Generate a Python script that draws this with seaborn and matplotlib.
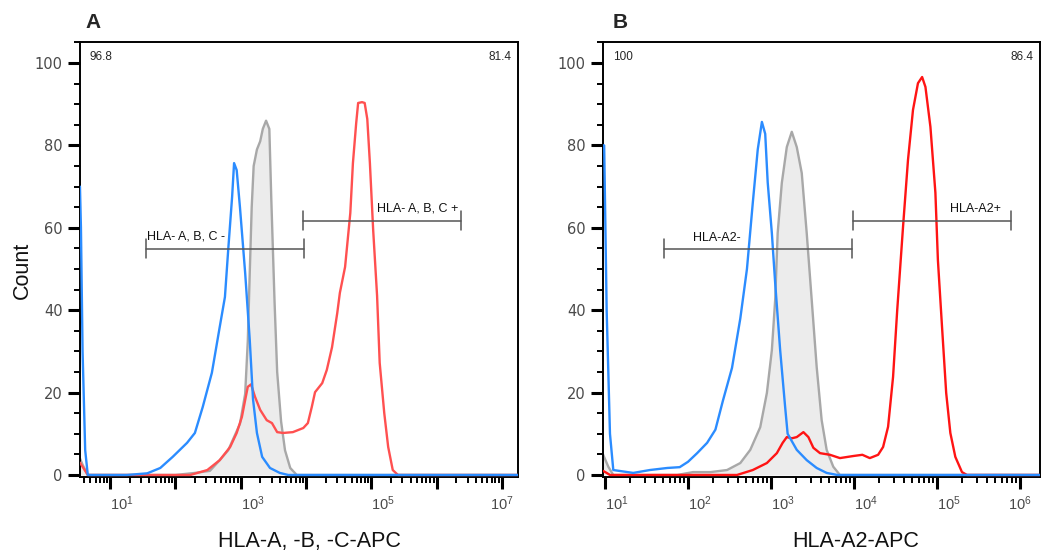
import numpy as np
import pandas as pd
import matplotlib
matplotlib.use("Agg")
import matplotlib.pyplot as plt
import matplotlib.ticker as mticker
import seaborn as sns

# ---------------- data (log10 fluorescence, count) ----------------
# Panel A
blue_a_exp = [0.54, 0.555, 0.58, 0.62, 0.66, 1.26, 1.57, 1.77, 1.96, 2.18, 2.30, 2.42, 2.56, 2.68,
              2.76, 2.81, 2.87, 2.90, 2.94, 2.99, 3.07, 3.14, 3.19, 3.25, 3.33, 3.45, 3.60, 3.73, 7.25]
blue_a_cnt = [70, 60, 30, 6, 0, 0, 0.4, 1.7, 4.4, 7.8, 10.2, 16.5, 24.8, 35.9,
              43.2, 54.6, 67.5, 75.7, 74.0, 65.0, 49.0, 32.8, 18.4, 10.2, 4.4, 1.7, 0.5, 0, 0]

gray_a_exp = [0.54, 0.58, 0.66, 2.0, 2.30, 2.53, 2.68, 2.81, 2.88, 2.99, 3.07, 3.11, 3.14, 3.17,
              3.20, 3.25, 3.30, 3.34, 3.39, 3.44, 3.47, 3.52, 3.56, 3.62, 3.68, 3.76, 3.86, 7.25]
gray_a_cnt = [4, 2.5, 0, 0, 0.5, 1, 3.6, 6, 8.5, 12.4, 19.7, 32.5, 49, 65,
              75, 79, 81, 84, 86, 84, 67, 42, 25, 13, 6, 1.7, 0, 0]

red_a_exp = [0.54, 0.58, 0.66, 2.23, 2.49, 2.68, 2.84, 2.94, 3.02, 3.07, 3.11, 3.16, 3.22, 3.30,
             3.40, 3.48, 3.56, 3.65, 3.80, 3.96, 4.03, 4.09, 4.14, 4.25, 4.32, 4.40, 4.48, 4.52,
             4.60, 4.68, 4.72, 4.77, 4.80, 4.86, 4.90, 4.94, 4.98, 5.03, 5.09, 5.13, 5.20, 5.26,
             5.33, 5.41, 7.25]
red_a_cnt = [3, 2, 0, 0, 1.2, 3.6, 6.8, 10.2, 14.1, 18.2, 21.4, 22, 19, 15.8,
             13.3, 12.6, 10.4, 10.2, 10.4, 11.4, 12.6, 16.5, 20.1, 22.3, 25.5, 31, 39.3, 44.2,
             50.5, 63.6, 75.7, 85.4, 90.3, 90.5, 90.3, 86.4, 75.7, 59.5, 43.5, 27.2, 15.0, 6.8,
             1.2, 0, 0]

# Panel B
blue_b_exp = [0.976, 0.99, 1.02, 1.06, 1.10, 1.34, 1.54, 1.75, 1.90, 2.00, 2.11, 2.23, 2.33, 2.42,
              2.53, 2.63, 2.71, 2.78, 2.84, 2.89, 2.93, 2.96, 3.01, 3.05, 3.11, 3.17, 3.20, 3.31,
              3.43, 3.55, 3.67, 3.80, 6.24]
blue_b_cnt = [80, 80, 40, 10, 1.2, 0.5, 1.2, 1.7, 1.9, 3.2, 5.3, 7.8, 11, 18,
              26, 38, 50, 66, 79, 85.7, 82.8, 71, 58.7, 46.6, 30.3, 16.5, 10.0, 6.1,
              3.6, 1.7, 0.5, 0, 0]

gray_b_exp = [0.976, 1.04, 1.10, 1.87, 2.06, 2.27, 2.47, 2.63, 2.75, 2.87, 2.95, 3.01, 3.05, 3.08,
              3.13, 3.19, 3.25, 3.31, 3.37, 3.43, 3.49, 3.55, 3.61, 3.67, 3.75, 3.83, 6.24]
gray_b_cnt = [5, 2, 0, 0, 0.7, 0.7, 1.2, 2.9, 6.1, 11.6, 19.9, 30.3, 42.5, 58.7,
              70.9, 79.6, 83.3, 79.6, 73.3, 58.7, 42.5, 26.2, 13.3, 6.1, 2, 0, 0]

red_b_exp = [0.976, 1.02, 1.06, 2.59, 2.78, 2.95, 3.07, 3.14, 3.19, 3.25, 3.31, 3.39, 3.45, 3.51,
             3.59, 3.71, 3.83, 3.99, 4.10, 4.19, 4.29, 4.35, 4.41, 4.47, 4.52, 4.59, 4.65, 4.71,
             4.77, 4.82, 4.86, 4.92, 4.98, 5.01, 5.06, 5.11, 5.16, 5.22, 5.30, 5.36, 6.24]
red_b_cnt = [1, 0.5, 0, 0, 1.2, 2.9, 5.3, 7.8, 9.2, 8.9, 9.2, 10.4, 9.2, 6.6,
             5.3, 4.9, 4.1, 4.6, 4.9, 4.1, 4.9, 6.8, 11.7, 23.8, 40.0, 60.2, 76.5, 88.6,
             95.1, 96.6, 94.2, 84.5, 68.5, 52.2, 35.9, 19.9, 10.2, 4.4, 0.7, 0, 0]

# Gates (log10 edges, height) and labels
gates_a = [(1.55, 3.97, 54.9), (3.96, 6.375, 61.7)]
gates_b = [(1.71, 3.98, 54.9), (3.99, 5.89, 61.7)]
gate_labels_a = ["HLA- A, B, C -", "HLA- A, B, C +"]
gate_labels_b = ["HLA-A2-", "HLA-A2+"]
corner_a = ["96.8", "81.4"]
corner_b = ["100", "86.4"]
xlabels = ["HLA-A, -B, -C-APC", "HLA-A2-APC"]
panel_letters = ["A", "B"]
xlim_exp_a = (0.5406, 7.248)
xlim_exp_b = (0.976, 6.24)
major_a = [1, 2, 3, 4, 5, 6, 7]
labeled_a = [1, 3, 5, 7]
major_b = [1, 2, 3, 4, 5, 6]
labeled_b = [1, 2, 3, 4, 5, 6]

# ---------------- style ----------------
sns.set_style("ticks")
plt.rcParams['font.family'] = ['Liberation Sans', 'DejaVu Sans']
plt.rcParams['mathtext.fontset'] = 'dejavusans'

BLUE = "#2b8cff"
GRAY_LINE = "#a8a8a8"
GRAY_FILL = "#ececec"
RED_A = "#ff5050"
RED_B = "#ff1414"
TICK_COL = "#4a4a4a"

fig = plt.figure(figsize=(10.42, 5.53), dpi=100)
ax_a = fig.add_axes([80/1042, 76/553, 438/1042, 435/553])
ax_b = fig.add_axes([603/1042, 76/553, 437/1042, 435/553])


def draw(ax, blue, gray, red, red_col, gates, glabels, corner, xlim_exp, majors, labeled,
         xlabel, label_x, text_specs):
    gx = 10 ** np.array(gray[0])
    ax.fill_between(gx, 0, gray[1], color=GRAY_FILL, zorder=1, lw=0)
    sns.lineplot(x=gx, y=gray[1], ax=ax, color=GRAY_LINE, lw=1.7, sort=False,
                 estimator=None, zorder=2)
    sns.lineplot(x=10 ** np.array(red[0]), y=red[1], ax=ax, color=red_col, lw=1.7,
                 sort=False, estimator=None, zorder=3)
    sns.lineplot(x=10 ** np.array(blue[0]), y=blue[1], ax=ax, color=BLUE, lw=1.7,
                 sort=False, estimator=None, zorder=4)
    ax.set_xscale('log')
    ax.set_xlim(10 ** xlim_exp[0], 10 ** xlim_exp[1])
    ax.set_ylim(-0.49, 105.1)

    # gates
    for (g0, g1, gy) in gates:
        x0, x1 = 10 ** g0, 10 ** g1
        ax.plot([x0, x1], [gy, gy], color="#555555", lw=1.1, zorder=5)
        for xx in (x0, x1):
            ax.plot([xx, xx], [gy - 2.3, gy + 2.3], color="#555555", lw=1.1, zorder=5)
    for (txt, (tx, ty, ha)) in zip(glabels, text_specs):
        ax.text(10 ** tx, ty, txt, fontsize=9, ha=ha, va='center', color='#111111', zorder=6)

    # corner numbers
    ax.text(0.022, 0.965, corner[0], transform=ax.transAxes, fontsize=8.5, ha='left', va='center')
    ax.text(0.985, 0.965, corner[1], transform=ax.transAxes, fontsize=8.5, ha='right', va='center')

    # ticks
    ax.xaxis.set_major_locator(mticker.FixedLocator([10.0 ** m for m in majors]))
    labs = [f"$\\mathdefault{{10^{{{m}}}}}$" if m in labeled else "" for m in majors]
    ax.xaxis.set_major_formatter(mticker.FixedFormatter(labs))
    ax.xaxis.set_minor_locator(mticker.LogLocator(base=10, subs=np.arange(2, 10), numticks=30))
    ax.xaxis.set_minor_formatter(mticker.NullFormatter())
    ax.yaxis.set_major_locator(mticker.MultipleLocator(20))
    ax.yaxis.set_minor_locator(mticker.MultipleLocator(5))
    ax.tick_params(axis='both', which='major', length=8.5, width=2.2, color='black',
                   labelsize=10.5, labelcolor=TICK_COL, pad=4)
    ax.tick_params(axis='both', which='minor', length=4.5, width=1.4, color='black')
    ax.tick_params(axis='y', which='major', pad=4)
    for t in ax.get_yticklabels():
        t.set_fontfamily('DejaVu Sans')
    tls = ax.get_xticklabels()
    for i, t in enumerate(tls):
        t.set_horizontalalignment('left')
    if tls:
        tls[-1].set_horizontalalignment('center')
    for s in ax.spines.values():
        s.set_linewidth(1.4)
        s.set_color('black')
        s.set_visible(True)

    ax.set_xlabel(xlabel, fontsize=15.5, color='#111111')
    ax.xaxis.set_label_coords(label_x, -0.148)
    ax.xaxis.label.set_va('center')
    ax.set_ylabel("")


draw(ax_a, (blue_a_exp, blue_a_cnt), (gray_a_exp, gray_a_cnt), (red_a_exp, red_a_cnt), RED_A,
     gates_a, gate_labels_a, corner_a, xlim_exp_a, major_a, labeled_a, xlabels[0], 0.524,
     [(1.567, 57.8, 'left'), (6.33, 64.8, 'right')])
draw(ax_b, (blue_b_exp, blue_b_cnt), (gray_b_exp, gray_b_cnt), (red_b_exp, red_b_cnt), RED_B,
     gates_b, gate_labels_b, corner_b, xlim_exp_b, major_b, labeled_b, xlabels[1], 0.579,
     [(2.35, 57.5, 'center'), (5.46, 64.6, 'center')])

ax_a.set_ylabel("Count", fontsize=15.5, color='#111111')
ax_a.yaxis.set_label_coords(-0.132, 0.476)
ax_a.yaxis.label.set_va('center')

fig.text(93/1042, 1 - 22/553, panel_letters[0], fontsize=15, fontweight='bold', ha='center', va='center')
fig.text(620/1042, 1 - 22/553, panel_letters[1], fontsize=15, fontweight='bold', ha='center', va='center')

fig.savefig("out.png", dpi=100)
